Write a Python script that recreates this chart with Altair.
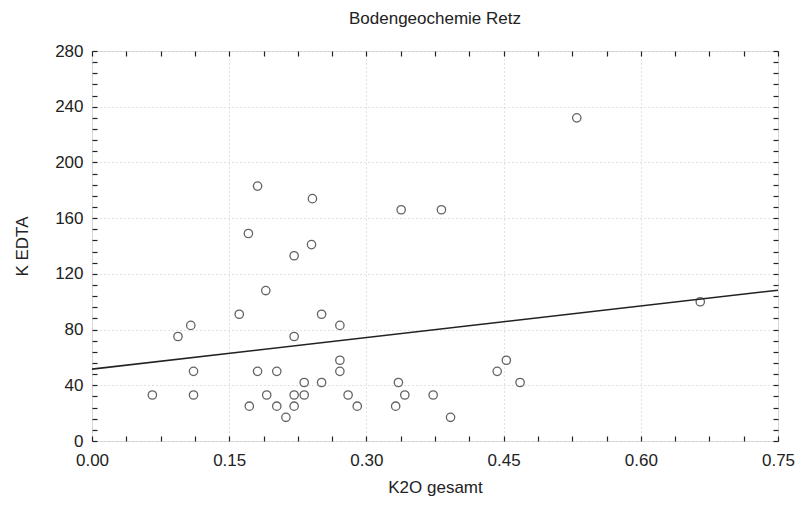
import altair as alt
import pandas as pd

# K2O gesamt (x) and K EDTA (y) values
k2o = [0.066, 0.094, 0.108, 0.111, 0.111, 0.161, 0.171, 0.172, 0.181, 0.181,
       0.190, 0.191, 0.202, 0.202, 0.212, 0.221, 0.221, 0.221, 0.221, 0.232,
       0.232, 0.240, 0.241, 0.251, 0.251, 0.271, 0.271, 0.271, 0.280, 0.290,
       0.332, 0.335, 0.338, 0.342, 0.373, 0.382, 0.392, 0.443, 0.453, 0.468,
       0.530, 0.665]
k_edta = [33, 75, 83, 50, 33, 91, 149, 25, 183, 50,
          108, 33, 50, 25, 17, 133, 75, 33, 25, 42,
          33, 141, 174, 91, 42, 83, 58, 50, 33, 25,
          25, 42, 166, 33, 33, 166, 17, 50, 58, 42,
          232, 100]

x_ticks = [round(i * 0.0375, 4) for i in range(21)]
y_ticks = list(range(0, 281, 8))

df = pd.DataFrame({"k2o": k2o, "k_edta": k_edta})

FONT = "Liberation Sans"
x_scale = alt.Scale(domain=[0, 0.75], nice=False, zero=False)
y_scale = alt.Scale(domain=[0, 280], nice=False)

x_major = "round(datum.value * 1000) % 150 === 0"
y_major = "datum.value % 40 === 0"

tick_axis = dict(
    domain=False, ticks=True, tickSize=5, offset=-5, tickColor="#222",
    tickWidth=1.2, labelFlush=False,
    gridColor="#c4c4c4", gridDash=[1, 3], gridWidth=1,
)
text_axis = dict(
    labelFont=FONT, labelFontSize=17, labelColor="#222",
    titleFont=FONT, titleFontSize=17, titleFontWeight="normal", titleColor="#222",
)

points = alt.Chart(df).mark_point(
    shape="circle", filled=False, color="#222", size=70, strokeWidth=1.3
).encode(
    x=alt.X("k2o:Q", scale=x_scale, axis=alt.Axis(
        orient="bottom", values=x_ticks, title="K2O gesamt", labelPadding=11,
        labelExpr=f"{x_major} ? format(datum.value, '.2f') : ''",
        grid=True, gridOpacity={"condition": {"test": x_major, "value": 1}, "value": 0},
        titlePadding=11, **tick_axis, **text_axis)),
    y=alt.Y("k_edta:Q", scale=y_scale, axis=alt.Axis(
        orient="left", values=y_ticks, title="K  EDTA", labelPadding=9,
        labelExpr=f"{y_major} ? datum.label : ''",
        grid=True, gridOpacity={"condition": {"test": y_major, "value": 1}, "value": 0},
        titlePadding=23, **tick_axis, **text_axis)),
)

line = alt.Chart(df).transform_regression(
    "k2o", "k_edta", extent=[0, 0.75]
).mark_line(color="#222", strokeWidth=1.6).encode(
    x=alt.X("k2o:Q", scale=x_scale, axis=alt.Axis(
        orient="top", values=x_ticks, labels=False, title=None, grid=False, **tick_axis)),
    y=alt.Y("k_edta:Q", scale=y_scale, axis=alt.Axis(
        orient="right", values=y_ticks, labels=False, title=None, grid=False, **tick_axis)),
)

chart = alt.layer(points, line).resolve_axis(x="independent", y="independent").properties(
    width=686, height=390,
    autosize=alt.AutoSizeParams(type="none"),
    padding={"left": 92, "top": 51, "right": 26, "bottom": 71},
    title=alt.TitleParams("Bodengeochemie Retz", font=FONT, fontSize=17,
                          fontWeight="normal", color="#222", offset=14, anchor="middle"),
).configure_view(stroke="#222", strokeWidth=1.5).configure(background="white")

chart.save("out.html", embed_options={"renderer": "svg", "actions": False})
